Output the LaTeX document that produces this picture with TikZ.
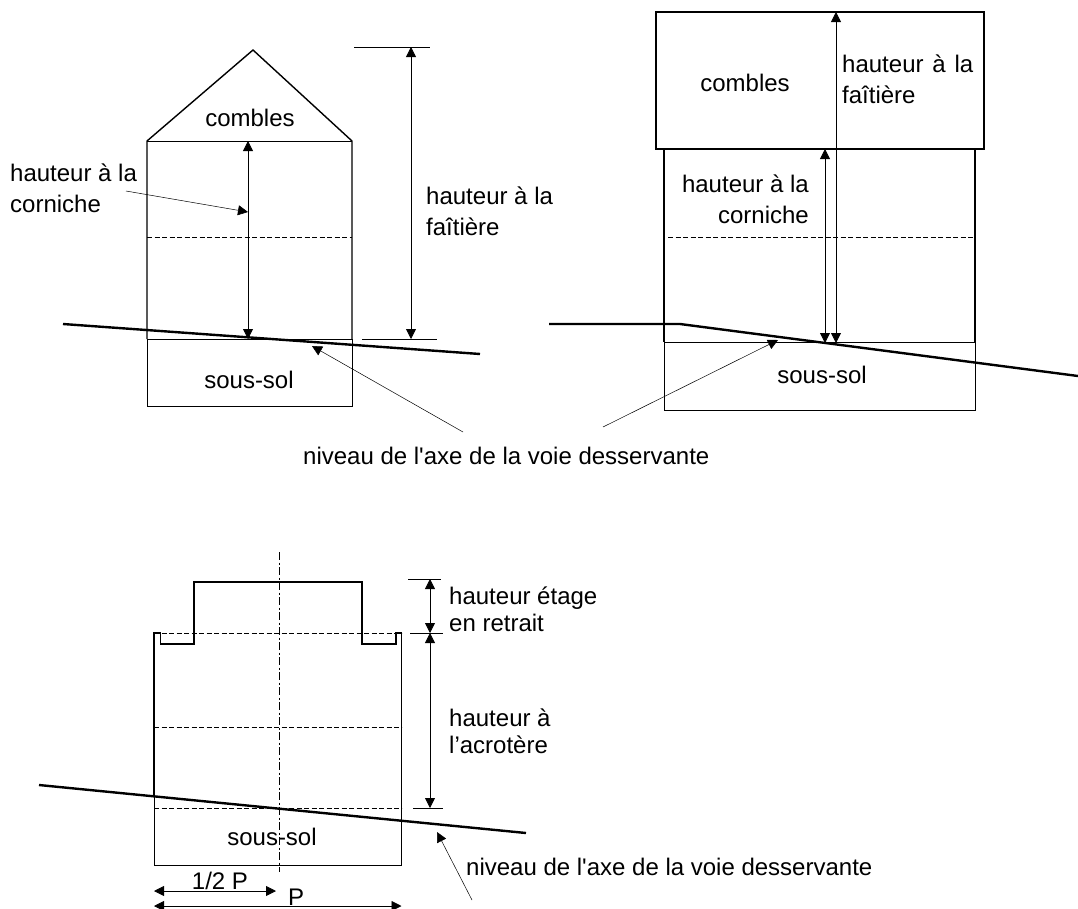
\documentclass[tikz,border=0pt]{standalone}
\usepackage{fontspec}
\setmainfont[Ligatures=TeXOff]{Liberation Sans}
\usetikzlibrary{arrows.meta,positioning}

\begin{document}
\begin{tikzpicture}[x=1pt,y=-1pt]

\tikzstyle{wall} = [draw=black, line width=1.4pt, line join=miter]
\tikzstyle{thinline} = [draw=black, line width=0.9pt]
\tikzstyle{ground} = [draw=black, line width=2.4pt]
\tikzstyle{storey} = [draw=black, line width=0.8pt, dash pattern=on 5pt off 2.5pt]
\tikzstyle{axisline} = [draw=black, line width=0.8pt, dash pattern=on 8pt off 2.5pt on 2pt off 2.5pt]
\tikzstyle{arrow} = [draw=black, line width=0.8pt, {Triangle[length=10pt,width=10pt]}-{Triangle[length=10pt,width=10pt]}]
\tikzstyle{leader} = [draw=black, line width=0.5pt, -{Triangle[length=10pt,width=10pt]}]
\tikzstyle{labels} = [draw=none, inner sep=0pt, font=\fontsize{24}{31}\selectfont]
\tikzstyle{leftlabels} = [labels, anchor=west, align=left]

\useasboundingbox (0,0) rectangle (1078,908);

%% ------------------
%% -- PITCHED ROOF --
%% ------------------

\coordinate (a_apex) at (253,50);
\coordinate (a_eaveL) at (147,141);
\coordinate (a_eaveR) at (352,141);
\coordinate (a_baseL) at (147,339);
\coordinate (a_baseR) at (352,339);
\coordinate (a_botL) at (147,406);
\coordinate (a_botR) at (352,406);
\coordinate (a_midL) at (147,237);
\coordinate (a_midR) at (352,237);
\coordinate (a_gndL) at (63,324);
\coordinate (a_gndR) at (480,354);

\draw [wall] (a_baseL) -- (a_eaveL) -- (a_apex) -- (a_eaveR) -- (a_baseR);
\draw [thinline] (a_eaveL) -- (a_eaveR);
\draw [thinline] (a_baseL) -- (a_botL) -- (a_botR) -- (a_baseR) -- cycle;
\draw [storey] (a_midL) -- (a_midR);
\draw [ground] (a_gndL) -- (a_gndR);

% dimensions
\coordinate (a_cornT) at (248,141);
\coordinate (a_cornB) at (248,339);
\coordinate (a_faitT) at (411,47);
\coordinate (a_faitB) at (411,339);
\coordinate (a_tickTL) at (354,47);
\coordinate (a_tickTR) at (430,47);
\coordinate (a_tickBL) at (362,339);
\coordinate (a_tickBR) at (437,339);
\coordinate (a_cornTail) at (126,191);
\coordinate (a_cornTip) at (248,212);
\coordinate (a_axeTail) at (463,432);
\coordinate (a_axeTip) at (312,346);

\draw [arrow] (a_cornT) -- (a_cornB);
\draw [arrow] (a_faitT) -- (a_faitB);
\draw [thinline] (a_tickTL) -- (a_tickTR);
\draw [thinline] (a_tickBL) -- (a_tickBR);
\draw [leader] (a_cornTail) -- (a_cornTip);
\draw [leader] (a_axeTail) -- (a_axeTip);

\node (a_combles) [labels] at (250,118) {combles};
\node (a_soussol) [labels] at (249,380) {sous-sol};
\node (a_corniche) [leftlabels] at (10,188) {hauteur à la\\corniche};
\node (a_faitiere) [leftlabels] at (426,211) {hauteur à la\\faîtière};
\node (a_niveau) [leftlabels] at (303,456) {niveau de l'axe de la voie desservante};

%% ----------------
%% -- FLAT ATTIC --
%% ----------------

\coordinate (b_roofTL) at (656,12);
\coordinate (b_roofTR) at (984,12);
\coordinate (b_roofBL) at (656,149);
\coordinate (b_roofBR) at (984,149);
\coordinate (b_topL) at (664,149);
\coordinate (b_topR) at (975,149);
\coordinate (b_baseL) at (664,342);
\coordinate (b_baseR) at (975,342);
\coordinate (b_botL) at (664,410);
\coordinate (b_botR) at (975,410);
\coordinate (b_midL) at (668,237);
\coordinate (b_midR) at (975,237);
\coordinate (b_gndL) at (549,324);
\coordinate (b_gndK) at (680,324);
\coordinate (b_gndR) at (1078,376);

\draw [wall] (b_roofTL) -- (b_roofTR) -- (b_roofBR) -- (b_roofBL) -- cycle;
\draw [wall] (b_topL) -- (b_baseL);
\draw [wall] (b_topR) -- (b_baseR);
\draw [thinline] (b_baseL) -- (b_botL) -- (b_botR) -- (b_baseR) -- cycle;
\draw [storey] (b_midL) -- (b_midR);
\draw [ground] (b_gndL) -- (b_gndK) -- (b_gndR);

% dimensions
\coordinate (b_cornT) at (825,149);
\coordinate (b_cornB) at (825,343);
\coordinate (b_faitT) at (836,12);
\coordinate (b_faitB) at (836,343);
\coordinate (b_axeTail) at (603,427);
\coordinate (b_axeTip) at (778,340);

\draw [arrow] (b_cornT) -- (b_cornB);
\draw [arrow] (b_faitT) -- (b_faitB);
\draw [leader] (b_axeTail) -- (b_axeTip);

\node (b_combles) [labels] at (745,83) {combles};
\node (b_soussol) [labels] at (822,375) {sous-sol};
\node (b_corniche) [labels, anchor=east, align=right] at (809,199) {hauteur à la\\corniche};
\node (b_faitiere) [leftlabels] at (842,79) {\makebox[131pt][s]{hauteur à la}\\faîtière};

%% ---------------
%% -- FLAT ROOF --
%% ---------------

\coordinate (c_topL) at (154,633);
\coordinate (c_inL) at (160.5,633);
\coordinate (c_gutL) at (160.5,644);
\coordinate (c_setL) at (194,644);
\coordinate (c_setTL) at (194,582);
\coordinate (c_setTR) at (362,582);
\coordinate (c_setR) at (362,644);
\coordinate (c_gutR) at (396,644);
\coordinate (c_inR) at (396,633);
\coordinate (c_topR) at (401.5,633);
\coordinate (c_wallL) at (154,797);
\coordinate (c_wallR) at (401.5,821);
\coordinate (c_botL) at (154,865);
\coordinate (c_botR) at (401.5,865);
\coordinate (c_midL) at (154,727);
\coordinate (c_midR) at (401.5,727);
\coordinate (c_baseL) at (154,808);
\coordinate (c_baseR) at (401.5,808);
\coordinate (c_axisT) at (279,552);
\coordinate (c_axisB) at (279,872);
\coordinate (c_gndL) at (39,785);
\coordinate (c_gndR) at (526,833);

\draw [wall] (c_wallL) -- (c_topL) -- (c_inL) -- (c_gutL) -- (c_setL) -- (c_setTL) -- (c_setTR) -- (c_setR) -- (c_gutR) -- (c_inR) -- (c_topR) -- (c_wallR);
\draw [thinline] (c_wallL) -- (c_botL) -- (c_botR) -- (c_wallR);
\draw [storey] (c_topL) -- (c_topR);
\draw [storey] (c_midL) -- (c_midR);
\draw [storey] (c_baseL) -- (c_baseR);
\draw [axisline] (c_axisT) -- (c_axisB);
\draw [ground] (c_gndL) -- (c_gndR);

% dimensions
\coordinate (c_dimT) at (430,579);
\coordinate (c_dimM) at (430,633);
\coordinate (c_dimB) at (430,808);
\coordinate (c_tickTL) at (408,579);
\coordinate (c_tickTR) at (441,579);
\coordinate (c_tickML) at (410,633);
\coordinate (c_tickMR) at (443,633);
\coordinate (c_tickBL) at (413,808);
\coordinate (c_tickBR) at (443,808);
\coordinate (c_halfL) at (154,891);
\coordinate (c_halfR) at (276,891);
\coordinate (c_fullL) at (154,906);
\coordinate (c_fullR) at (401.5,906);
\coordinate (c_axeTail) at (472,900);
\coordinate (c_axeTip) at (437,832);

\draw [arrow] (c_dimT) -- (c_dimM);
\draw [arrow] (c_dimM) -- (c_dimB);
\draw [thinline] (c_tickTL) -- (c_tickTR);
\draw [thinline] (c_tickML) -- (c_tickMR);
\draw [thinline] (c_tickBL) -- (c_tickBR);
\draw [arrow] (c_halfL) -- (c_halfR);
\draw [arrow] (c_fullL) -- (c_fullR);
\draw [leader] (c_axeTail) -- (c_axeTip);

\node (c_soussol) [labels] at (272,837) {sous-sol};
\node (c_half) [labels] at (220,881) {1/2 P};
\node (c_full) [labels] at (296,897) {P};
\node (c_etage) [leftlabels, font=\fontsize{24}{27}\selectfont] at (449,609) {hauteur étage\\en retrait};
\node (c_acrotere) [leftlabels, font=\fontsize{24}{27}\selectfont] at (449,731) {hauteur à\\l’acrotère};
\node (c_niveau) [leftlabels] at (466,867) {niveau de l'axe de la voie desservante};

\end{tikzpicture}
\end{document}
